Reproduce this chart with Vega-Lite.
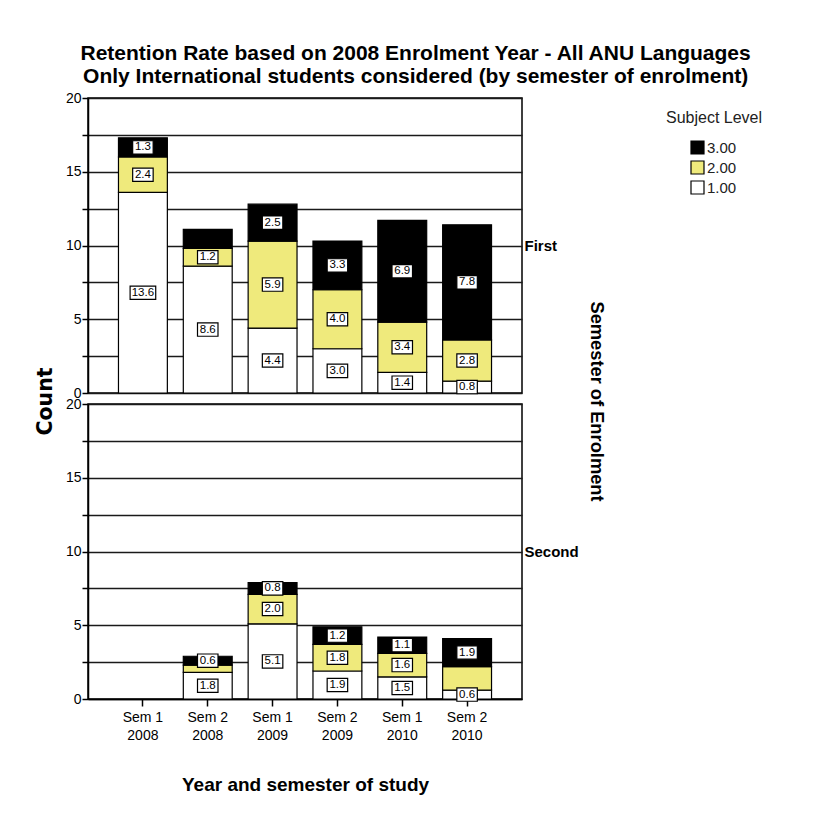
{
  "$schema": "https://vega.github.io/schema/vega-lite/v6.json",
  "background": "white",
  "padding": {"left": 34, "top": 43, "right": 5, "bottom": 5},
  "bounds": "flush",
  "title": {
    "text": ["Retention Rate based on 2008 Enrolment Year - All ANU Languages", "Only International students considered (by semester of enrolment)"],
    "font": "Liberation Sans, Arial, sans-serif",
    "fontSize": 21,
    "fontWeight": "bold",
    "color": "black",
    "lineHeight": 23,
    "anchor": "middle",
    "frame": "bounds",
    "dx": 17,
    "offset": 3
  },
  "data": {
    "values": [
      {"semester": "First", "period": "Sem 1 2008", "level": "1.00", "count": 13.6, "label": "13.6"},
      {"semester": "First", "period": "Sem 1 2008", "level": "2.00", "count": 2.4, "label": "2.4"},
      {"semester": "First", "period": "Sem 1 2008", "level": "3.00", "count": 1.3, "label": "1.3"},
      {"semester": "First", "period": "Sem 2 2008", "level": "1.00", "count": 8.6, "label": "8.6"},
      {"semester": "First", "period": "Sem 2 2008", "level": "2.00", "count": 1.2, "label": "1.2"},
      {"semester": "First", "period": "Sem 2 2008", "level": "3.00", "count": 1.3, "label": ""},
      {"semester": "First", "period": "Sem 1 2009", "level": "1.00", "count": 4.4, "label": "4.4"},
      {"semester": "First", "period": "Sem 1 2009", "level": "2.00", "count": 5.9, "label": "5.9"},
      {"semester": "First", "period": "Sem 1 2009", "level": "3.00", "count": 2.5, "label": "2.5"},
      {"semester": "First", "period": "Sem 2 2009", "level": "1.00", "count": 3.0, "label": "3.0"},
      {"semester": "First", "period": "Sem 2 2009", "level": "2.00", "count": 4.0, "label": "4.0"},
      {"semester": "First", "period": "Sem 2 2009", "level": "3.00", "count": 3.3, "label": "3.3"},
      {"semester": "First", "period": "Sem 1 2010", "level": "1.00", "count": 1.4, "label": "1.4"},
      {"semester": "First", "period": "Sem 1 2010", "level": "2.00", "count": 3.4, "label": "3.4"},
      {"semester": "First", "period": "Sem 1 2010", "level": "3.00", "count": 6.9, "label": "6.9"},
      {"semester": "First", "period": "Sem 2 2010", "level": "1.00", "count": 0.8, "label": "0.8"},
      {"semester": "First", "period": "Sem 2 2010", "level": "2.00", "count": 2.8, "label": "2.8"},
      {"semester": "First", "period": "Sem 2 2010", "level": "3.00", "count": 7.8, "label": "7.8"},
      {"semester": "Second", "period": "Sem 2 2008", "level": "1.00", "count": 1.8, "label": "1.8"},
      {"semester": "Second", "period": "Sem 2 2008", "level": "2.00", "count": 0.5, "label": ""},
      {"semester": "Second", "period": "Sem 2 2008", "level": "3.00", "count": 0.6, "label": "0.6"},
      {"semester": "Second", "period": "Sem 1 2009", "level": "1.00", "count": 5.1, "label": "5.1"},
      {"semester": "Second", "period": "Sem 1 2009", "level": "2.00", "count": 2.0, "label": "2.0"},
      {"semester": "Second", "period": "Sem 1 2009", "level": "3.00", "count": 0.8, "label": "0.8"},
      {"semester": "Second", "period": "Sem 2 2009", "level": "1.00", "count": 1.9, "label": "1.9"},
      {"semester": "Second", "period": "Sem 2 2009", "level": "2.00", "count": 1.8, "label": "1.8"},
      {"semester": "Second", "period": "Sem 2 2009", "level": "3.00", "count": 1.2, "label": "1.2"},
      {"semester": "Second", "period": "Sem 1 2010", "level": "1.00", "count": 1.5, "label": "1.5"},
      {"semester": "Second", "period": "Sem 1 2010", "level": "2.00", "count": 1.6, "label": "1.6"},
      {"semester": "Second", "period": "Sem 1 2010", "level": "3.00", "count": 1.1, "label": "1.1"},
      {"semester": "Second", "period": "Sem 2 2010", "level": "1.00", "count": 0.6, "label": "0.6"},
      {"semester": "Second", "period": "Sem 2 2010", "level": "2.00", "count": 1.6, "label": ""},
      {"semester": "Second", "period": "Sem 2 2010", "level": "3.00", "count": 1.9, "label": "1.9"}
    ]
  },
  "spacing": 11,
  "resolve": {"scale": {"color": "shared"}, "legend": {"color": "shared"}},
  "vconcat": [
    {
      "width": 434,
      "height": 295,
      "transform": [{"filter": "datum.semester === 'First'"}],
      "resolve": {"scale": {"y": "independent"}, "axis": {"y": "independent"}},
      "layer": [
        {
          "layer": [
            {
              "mark": {"type": "bar", "stroke": "black", "strokeWidth": 1.2},
              "encoding": {
                "x": {"field": "period", "type": "nominal", "scale": {"domain": ["Sem 1 2008", "Sem 2 2008", "Sem 1 2009", "Sem 2 2009", "Sem 1 2010", "Sem 2 2010"], "paddingInner": 0.246, "paddingOuter": 0.47}, "axis": null},
                "y": {"field": "count", "type": "quantitative", "stack": "zero", "scale": {"domain": [0, 20], "nice": false},
                  "axis": {"title": "Count", "values": [0, 2.5, 5, 7.5, 10, 12.5, 15, 17.5, 20], "labelExpr": "datum.value % 5 === 0 ? datum.label : ''", "titleX": -43, "titleY": 303, "titleAngle": -90, "titleAlign": "center", "titleBaseline": "middle"}},
                "color": {"field": "level", "type": "nominal", "scale": {"domain": ["3.00", "2.00", "1.00"], "range": ["black", "#EFEA7C", "white"]},
                  "legend": {"title": "Subject Level", "orient": "none", "legendX": 578, "legendY": 12}},
                "order": {"field": "level", "sort": "ascending"}
              }
            },
            {
              "mark": {"type": "point", "shape": "M-1,-0.65L1,-0.65L1,0.65L-1,0.65Z", "size": 420, "filled": true, "fill": "white", "stroke": "black", "strokeWidth": 1.2},
              "encoding": {
                "x": {"field": "period", "type": "nominal"},
                "y": {"field": "count", "type": "quantitative", "stack": "zero", "bandPosition": 0.5,
                  "axis": {"title": "Count", "values": [0, 2.5, 5, 7.5, 10, 12.5, 15, 17.5, 20], "labelExpr": "datum.value % 5 === 0 ? datum.label : ''", "titleX": -43, "titleY": 303, "titleAngle": -90, "titleAlign": "center", "titleBaseline": "middle"}},
                "detail": {"field": "level"},
                "order": {"field": "level", "sort": "ascending"},
                "shape": {"condition": {"test": "length(datum.label) > 3", "value": "M-1.25,-0.65L1.25,-0.65L1.25,0.65L-1.25,0.65Z"}, "value": "M-1,-0.65L1,-0.65L1,0.65L-1,0.65Z"},
                "opacity": {"condition": {"test": "datum.label === ''", "value": 0}, "value": 1}
              }
            },
            {
              "mark": {"type": "text", "font": "Liberation Sans, Arial, sans-serif", "fontSize": 11.5, "color": "black", "baseline": "middle", "align": "center"},
              "encoding": {
                "x": {"field": "period", "type": "nominal"},
                "y": {"field": "count", "type": "quantitative", "stack": "zero", "bandPosition": 0.5,
                  "axis": {"title": "Count", "values": [0, 2.5, 5, 7.5, 10, 12.5, 15, 17.5, 20], "labelExpr": "datum.value % 5 === 0 ? datum.label : ''", "titleX": -43, "titleY": 303, "titleAngle": -90, "titleAlign": "center", "titleBaseline": "middle"}},
                "detail": {"field": "level"},
                "order": {"field": "level", "sort": "ascending"},
                "text": {"field": "label"}
              }
            }
          ]
        },
        {
          "mark": {"type": "point", "opacity": 0},
          "encoding": {
            "x": {"field": "period", "type": "nominal"},
            "y": {"field": "semester", "type": "nominal", "axis": {"orient": "right", "title": "Semester of Enrolment", "titleAngle": 90, "titleX": 73, "titleY": 303, "titleAlign": "center", "titleBaseline": "middle", "ticks": false, "domain": false, "grid": false, "labelAlign": "left", "labelPadding": 2, "labelFont": "Liberation Sans, Arial, sans-serif", "labelFontWeight": "bold", "labelFontSize": 15, "labelColor": "black", "titleFont": "Liberation Sans, Arial, sans-serif", "titleFontSize": 18.3, "titleFontWeight": "bold", "titleColor": "black"}}
          }
        }
      ]
    },
    {
      "width": 434,
      "height": 295,
      "transform": [{"filter": "datum.semester === 'Second'"}],
      "resolve": {"scale": {"y": "independent"}, "axis": {"y": "independent"}},
      "layer": [
        {
          "layer": [
            {
              "mark": {"type": "bar", "stroke": "black", "strokeWidth": 1.2},
              "encoding": {
                "x": {"field": "period", "type": "nominal", "scale": {"domain": ["Sem 1 2008", "Sem 2 2008", "Sem 1 2009", "Sem 2 2009", "Sem 1 2010", "Sem 2 2010"], "paddingInner": 0.246, "paddingOuter": 0.47},
                  "axis": {"title": "Year and semester of study", "labelExpr": "[slice(datum.label,0,5), slice(datum.label,6)]", "labelAngle": 0, "labelFont": "Liberation Sans, Arial, sans-serif", "labelFontSize": 14, "labelLineHeight": 18, "labelPadding": 4, "tickSize": 7, "titleFont": "Liberation Sans, Arial, sans-serif", "titleFontSize": 19, "titleFontWeight": "bold", "titlePadding": 33}},
                "y": {"field": "count", "type": "quantitative", "stack": "zero", "scale": {"domain": [0, 20], "nice": false},
                  "axis": {"title": null, "values": [0, 2.5, 5, 7.5, 10, 12.5, 15, 17.5, 20], "labelExpr": "datum.value % 5 === 0 ? datum.label : ''"}},
                "color": {"field": "level", "type": "nominal", "scale": {"domain": ["3.00", "2.00", "1.00"], "range": ["black", "#EFEA7C", "white"]},
                  "legend": {"title": "Subject Level", "orient": "none", "legendX": 578, "legendY": 12}},
                "order": {"field": "level", "sort": "ascending"}
              }
            },
            {
              "mark": {"type": "point", "shape": "M-1,-0.65L1,-0.65L1,0.65L-1,0.65Z", "size": 420, "filled": true, "fill": "white", "stroke": "black", "strokeWidth": 1.2},
              "encoding": {
                "x": {"field": "period", "type": "nominal"},
                "y": {"field": "count", "type": "quantitative", "stack": "zero", "bandPosition": 0.5,
                  "axis": {"title": null, "values": [0, 2.5, 5, 7.5, 10, 12.5, 15, 17.5, 20], "labelExpr": "datum.value % 5 === 0 ? datum.label : ''"}},
                "detail": {"field": "level"},
                "order": {"field": "level", "sort": "ascending"},
                "opacity": {"condition": {"test": "datum.label === ''", "value": 0}, "value": 1}
              }
            },
            {
              "mark": {"type": "text", "font": "Liberation Sans, Arial, sans-serif", "fontSize": 11.5, "color": "black", "baseline": "middle", "align": "center"},
              "encoding": {
                "x": {"field": "period", "type": "nominal"},
                "y": {"field": "count", "type": "quantitative", "stack": "zero", "bandPosition": 0.5,
                  "axis": {"title": null, "values": [0, 2.5, 5, 7.5, 10, 12.5, 15, 17.5, 20], "labelExpr": "datum.value % 5 === 0 ? datum.label : ''"}},
                "detail": {"field": "level"},
                "order": {"field": "level", "sort": "ascending"},
                "text": {"field": "label"}
              }
            }
          ]
        },
        {
          "mark": {"type": "point", "opacity": 0},
          "encoding": {
            "x": {"field": "period", "type": "nominal"},
            "y": {"field": "semester", "type": "nominal", "axis": {"orient": "right", "title": null, "ticks": false, "domain": false, "grid": false, "labelAlign": "left", "labelPadding": 2, "labelFont": "Liberation Sans, Arial, sans-serif", "labelFontWeight": "bold", "labelFontSize": 15, "labelColor": "black"}}
          }
        }
      ]
    }
  ],
  "config": {
    "view": {"stroke": "black", "strokeWidth": 1.5},
    "axis": {"labelColor": "black", "titleColor": "black", "tickColor": "black", "domainColor": "black", "domainWidth": 1.5, "tickWidth": 1.5},
    "axisY": {"grid": true, "gridColor": "#1a1a1a", "gridWidth": 1.5, "tickSize": 6, "labelPadding": 1, "labelFont": "Liberation Sans, Arial, sans-serif", "labelFontSize": 14, "titleFont": "DejaVu Sans, Verdana, sans-serif", "titleFontSize": 20.5, "titleFontWeight": "bold"},
    "legend": {"titleFont": "Liberation Sans, Arial, sans-serif", "titleFontSize": 16, "titleFontWeight": "normal", "titleColor": "#222", "labelFont": "Liberation Sans, Arial, sans-serif", "labelFontSize": 15, "labelColor": "#222", "symbolType": "square", "symbolSize": 169, "symbolStrokeColor": "black", "symbolStrokeWidth": 1.2, "symbolOffset": 24, "labelOffset": 2, "rowPadding": 1, "titlePadding": 14}
  }
}
